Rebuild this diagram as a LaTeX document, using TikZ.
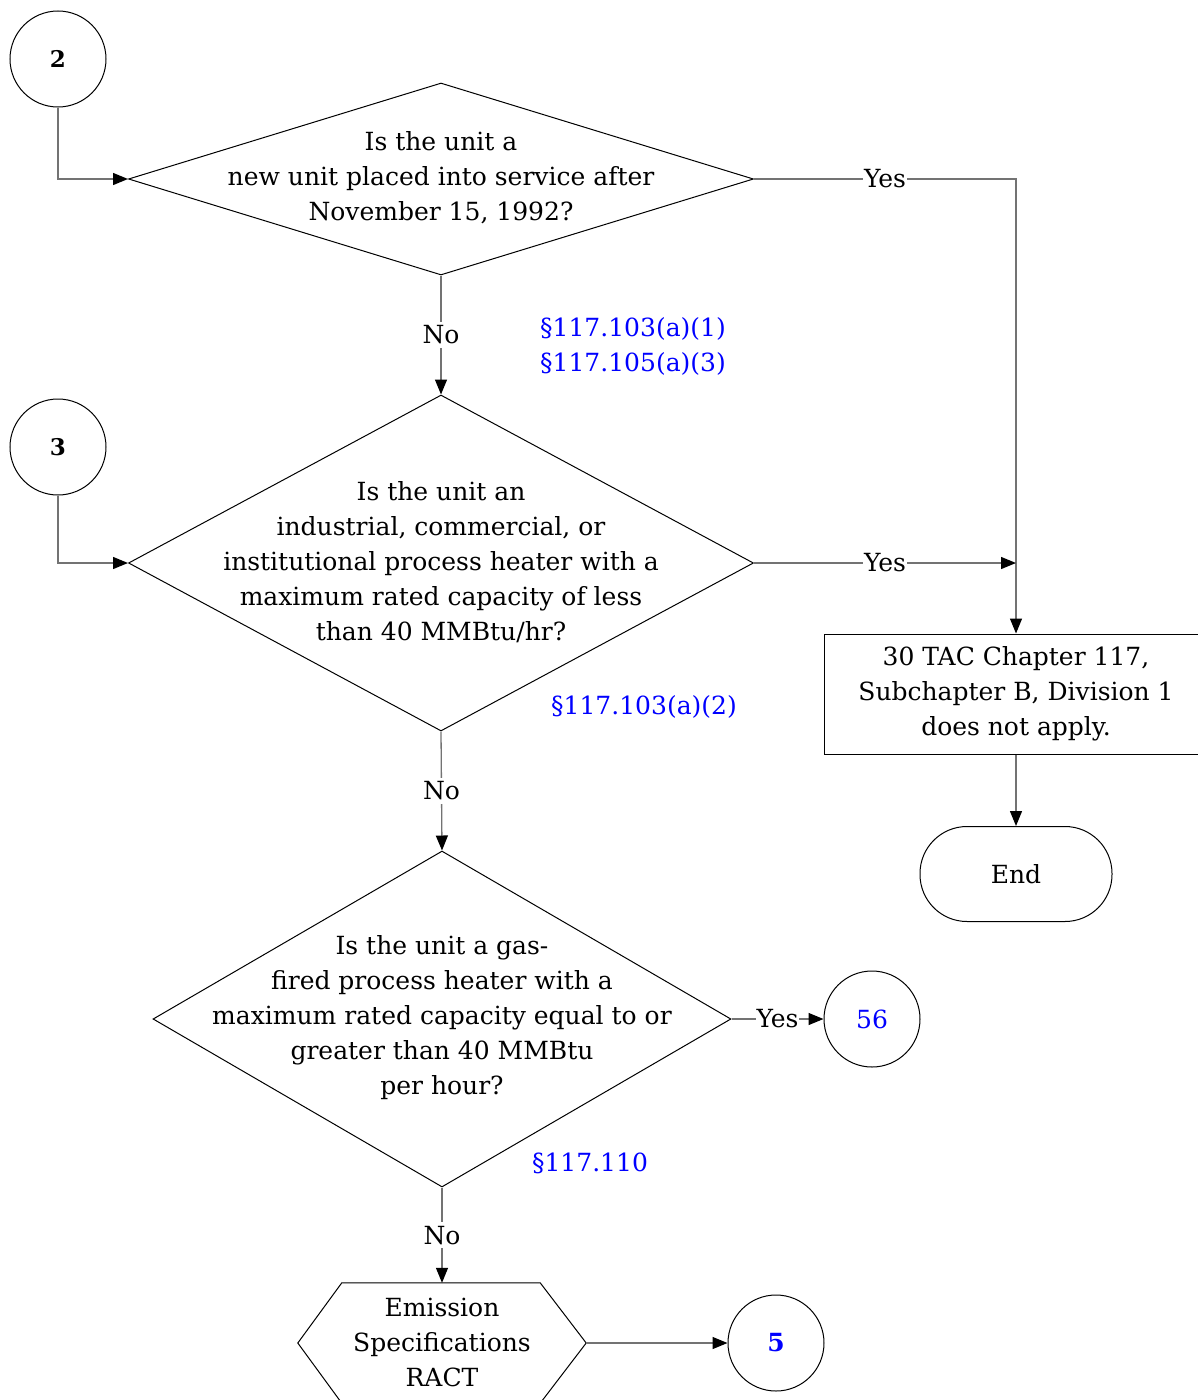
\documentclass[tikz,border=0pt]{standalone}
\usepackage{fontspec}
\setmainfont{DejaVu Serif}
\usetikzlibrary{shapes.geometric,arrows.meta}
\begin{document}
\begin{tikzpicture}[x=1pt,y=-1pt,
  shp/.style={draw=black, line width=1pt, fill=white},
  conn/.style={draw=black!55, line width=1.3pt},
  arr/.style={conn, -{Triangle[length=15pt,width=12pt,color=black]}},
  txt/.style={font=\fontsize{25}{35}\selectfont, align=center, inner sep=0pt},
  lbl/.style={txt, fill=white, inner xsep=1pt, inner ysep=4pt},
  refs/.style={txt, text=blue},
  dia/.style={shp, diamond, inner sep=0pt},
  circ/.style={shp, circle, minimum size=96pt, inner sep=0pt}
]
\useasboundingbox (0,0) rectangle (1197,1400);

% connectors (circles)
\node[circ, font=\fontsize{23}{27}\selectfont\bfseries] (c2) at (58,59) {2};
\node[circ, font=\fontsize{23}{27}\selectfont\bfseries] (c3) at (58,447) {3};

% diamonds
\node[dia, minimum width=625pt, minimum height=192pt] (d1) at (441,179) {};
\node[txt] (t1) at (441,178) {Is the unit a\\new unit placed into service after\\November 15, 1992?};

\node[dia, minimum width=625pt, minimum height=336pt] (d2) at (441,563) {};
\node[txt] (t2) at (441,562) {Is the unit an\\industrial, commercial, or\\institutional process heater with a\\maximum rated capacity of less\\than 40 MMBtu/hr?};

\node[dia, minimum width=578pt, minimum height=336pt] (d3) at (442,1019) {};
\node[txt] (t3) at (442,1018) {Is the unit a gas-\\fired process heater with a\\maximum rated capacity equal to or\\greater than 40 MMBtu\\per hour?};

% result box and terminator
\node[shp, rectangle, minimum width=384pt, minimum height=120pt, inner sep=0pt] (box) at (1016,694) {};
\node[txt] (tb) at (1016,694) {30 TAC Chapter 117,\\Subchapter B, Division 1\\does not apply.};
\node[shp, rectangle, rounded corners=47pt, minimum width=192pt, minimum height=95pt, txt] (end) at (1016,874) {End};

\node[circ, text=blue, font=\fontsize{25}{30}\selectfont] (c56) at (872,1019) {56};
\node[circ, text=blue, font=\fontsize{25}{30}\selectfont\bfseries] (c5) at (776,1343) {5};

% hexagon
\node[minimum width=288pt, minimum height=120pt, inner sep=0pt] (hex) at (442,1343) {};
\draw[shp] (hex.west) -- ([xshift=44pt]hex.north west) -- ([xshift=-46pt]hex.north east)
  -- (hex.east) -- ([xshift=-46pt]hex.south east) -- ([xshift=44pt]hex.south west) -- cycle;
\node[txt] (th) at (442,1342) {Emission\\Specifications\\RACT};

% reference notes
\node[refs] (r1) at (633,346) {§117.103(a)(1)\\§117.105(a)(3)};
\node[refs] (r2) at (644,707) {§117.103(a)(2)};
\node[refs] (r3) at (590,1163) {§117.110};

% edges
\draw[arr] (c2.south) |- (d1.west);
\draw[arr] (c3.south) |- (d2.west);
\draw[arr] (d1.east) -- node[lbl] {Yes} (d1.east -| box.north) -- (box.north);
\draw[arr] (d2.east) -- node[lbl] {Yes} (d2.east -| box.north);
\draw[arr] (d1.south) -- node[lbl] {No} (d2.north);
\draw[arr] (d2.south) -- node[lbl] {No} (d3.north);
\draw[arr] (d3.east) -- node[lbl] {Yes} (c56.west);
\draw[arr] (d3.south) -- node[lbl] {No} (hex.north);
\draw[arr] (hex.east) -- (c5.west);
\draw[arr] (box.south) -- (end.north);
\end{tikzpicture}
\end{document}
